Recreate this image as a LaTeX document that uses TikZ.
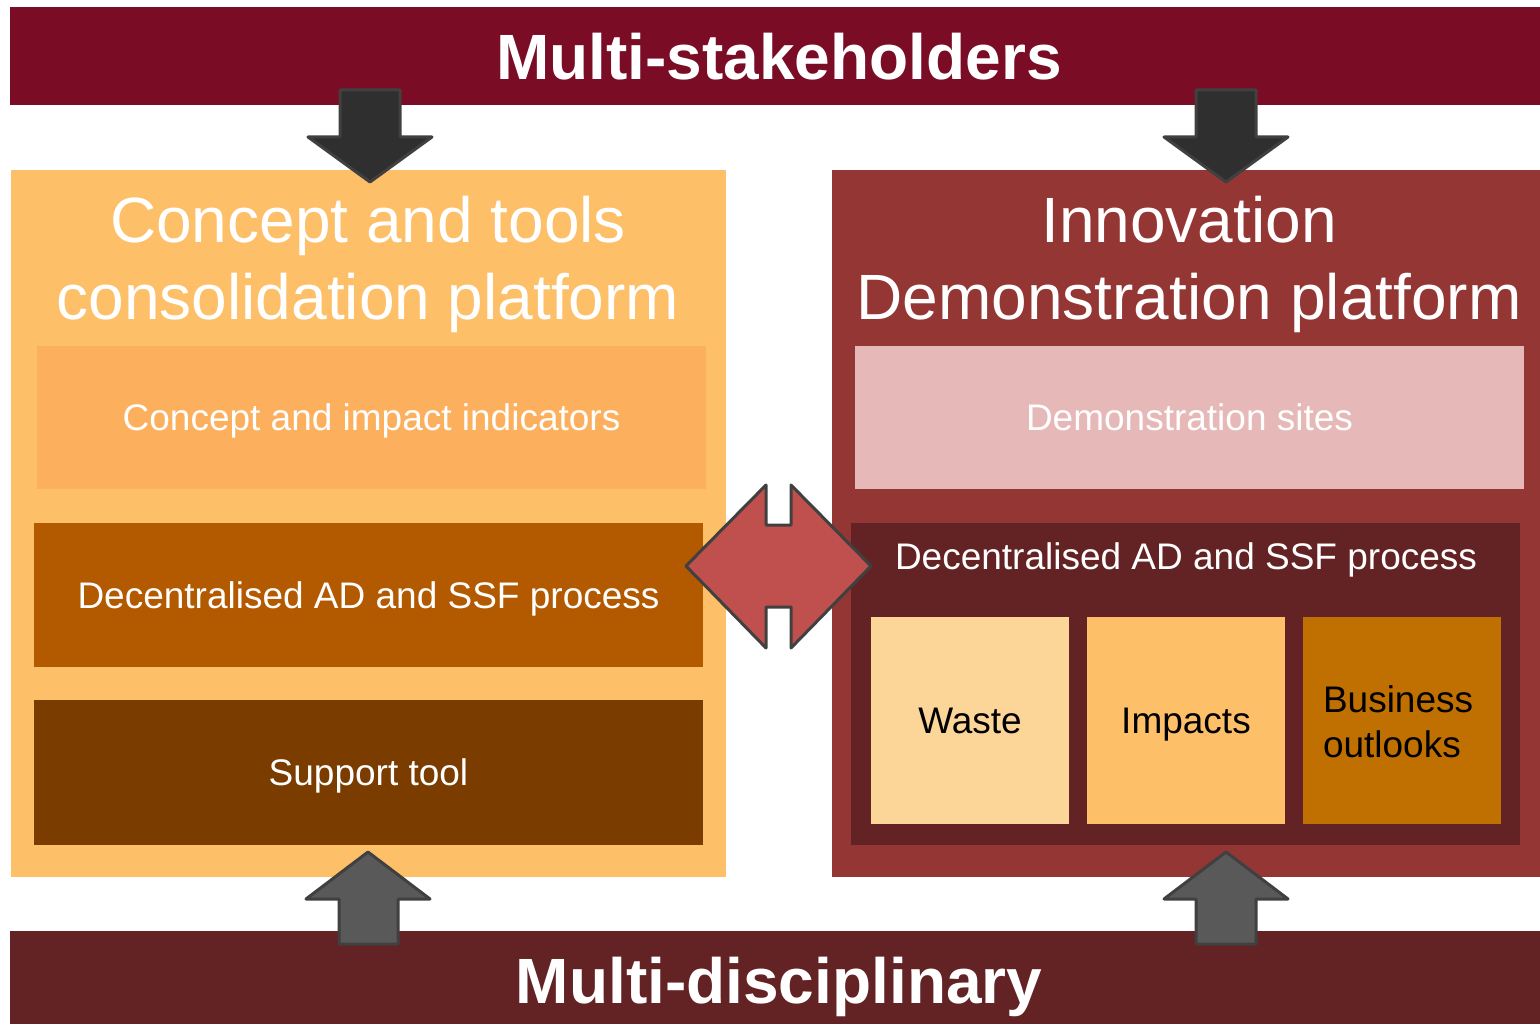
\documentclass[tikz,border=0pt]{standalone}
\usepackage{fontspec}
\setmainfont{Liberation Sans}
\usetikzlibrary{positioning}

\definecolor{stakered}{RGB}{123,12,38}
\definecolor{discired}{RGB}{99,34,36}
\definecolor{conceptbg}{RGB}{253,191,104}
\definecolor{indicbg}{RGB}{252,176,94}
\definecolor{processbg}{RGB}{179,89,0}
\definecolor{toolbg}{RGB}{123,60,0}
\definecolor{innovbg}{RGB}{148,54,52}
\definecolor{sitesbg}{RGB}{230,184,184}
\definecolor{demobg}{RGB}{99,35,36}
\definecolor{wastebg}{RGB}{252,213,152}
\definecolor{impactbg}{RGB}{253,191,104}
\definecolor{businessbg}{RGB}{192,112,0}
\definecolor{linkred}{RGB}{192,80,77}
\definecolor{downgray}{RGB}{47,47,47}
\definecolor{upgray}{RGB}{89,89,89}
\definecolor{edgegray}{RGB}{64,64,64}

\begin{document}
\begin{tikzpicture}[x=1pt,y=-1pt,
	  box/.style={inner sep=0pt, outer sep=0pt, text=white},
	  bigtext/.style={font=\fontsize{64}{76}\selectfont},
	  bandtext/.style={font=\fontsize{64}{76}\bfseries\selectfont},
	  smalltext/.style={font=\fontsize{37}{45}\selectfont},
	  oneline/.style={smalltext, text height=26, text depth=0},
	  blockarrow/.style={draw=edgegray, line width=3pt, line join=round}]
	  \useasboundingbox (0,0) rectangle (1540,1024);

	  % banners
	  \node [box, fill=stakered, minimum width=1530, minimum height=98] (stake) at (775,56) {};
	  \node [box, bandtext, anchor=base] (staketext) at (779,80) {Multi-stakeholders};
	  \node [box, fill=discired, minimum width=1530, minimum height=96] (disci) at (775,979) {};
	  \node [box, bandtext, anchor=base] (discitext) at (779,1003) {Multi-disciplinary};

	  % left platform
	  \node [box, fill=conceptbg, minimum width=715, minimum height=707] (concept) at (368.5,523.5) {};
	  \node [box, bigtext, anchor=base] (concepta) at (368,243) {Concept and tools};
	  \node [box, bigtext, anchor=base] (conceptb) at (368,320) {consolidation platform};
	  \node [box, fill=indicbg, minimum width=669, minimum height=143, oneline] (indic) at (371.5,417.5) {Concept and impact indicators};
	  \node [box, fill=processbg, minimum width=669, minimum height=144, oneline] (lprocess) at (368.5,595) {Decentralised AD and SSF process};
	  \node [box, fill=toolbg, minimum width=669, minimum height=145, oneline] (tool) at (368.5,772.5) {Support tool};

	  % right platform
	  \node [box, fill=innovbg, minimum width=708, minimum height=707] (innov) at (1186,523.5) {};
	  \node [box, bigtext, anchor=base] (innova) at (1189,243) {Innovation};
	  \node [box, bigtext, anchor=base] (innovb) at (1189,320) {Demonstration platform};
	  \node [box, fill=sitesbg, minimum width=669, minimum height=143, oneline] (sites) at (1189.5,417.5) {Demonstration sites};
	  \node [box, fill=demobg, minimum width=669, minimum height=322] (rprocess) at (1185.5,684) {};
	  \node [box, smalltext, anchor=base] (rprocesstext) at (1186,569) {Decentralised AD and SSF process};
	  \node [box, fill=wastebg, minimum width=198, minimum height=207, oneline, text=black] (waste) at (970,720.5) {Waste};
	  \node [box, fill=impactbg, minimum width=198, minimum height=207, oneline, text=black] (impact) at (1186,720.5) {Impacts};
	  \node [box, fill=businessbg, minimum width=198, minimum height=207] (business) at (1402,720.5) {};
	  \node [box, smalltext, text=black, align=left, anchor=west] (businesstext) at (1323,721.5) {Business\\outlooks};

	  % block arrows
	  \draw [blockarrow, fill=downgray] (340,90)--(400,90)--(400,137)--(432,137)--(370,182)--(308,137)--(340,137)--cycle;
	  \draw [blockarrow, fill=downgray] (1196,90)--(1256,90)--(1256,137)--(1288,137)--(1226,182)--(1164,137)--(1196,137)--cycle;
	  \draw [blockarrow, fill=upgray] (339,944)--(398,944)--(398,899)--(430,899)--(368,852)--(306,899)--(339,899)--cycle;
	  \draw [blockarrow, fill=upgray] (1196,944)--(1256,944)--(1256,899)--(1288,899)--(1226,852)--(1164,899)--(1196,899)--cycle;
	  \draw [blockarrow, fill=linkred] (686,566)--(766,485)--(766,525)--(791,525)--(791,485)--(871,566)--(791,648)--(791,607)--(766,607)--(766,648)--cycle;
	\end{tikzpicture}
\end{document}
